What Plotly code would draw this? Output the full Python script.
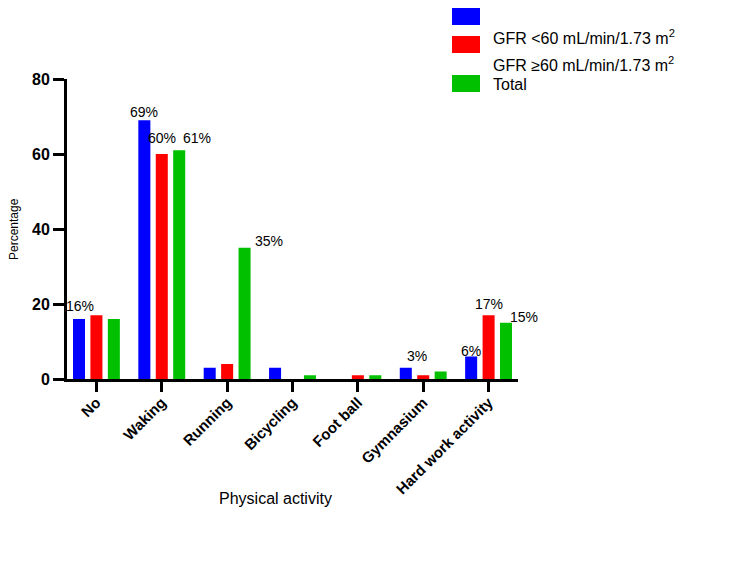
import plotly.graph_objects as go

categories = ["No", "Waking", "Running", "Bicycling", "Foot ball", "Gymnasium", "Hard work activity"]
series_names = ["", "GFR <60 mL/min/1.73 m<sup>2</sup>", "GFR \u226560 mL/min/1.73 m<sup>2</sup>", "Total"]
blue_vals = [16, 69, 3, 3, 0, 3, 6]
red_vals = [17, 60, 4, 0, 1, 1, 17]
green_vals = [16, 61, 35, 1, 1, 2, 15]
y_ticks = [0, 20, 40, 60, 80]
colors = ["#0000FF", "#FF0000", "#00C000"]

# labelled bars: (series index, category index, xshift px, yshift px)
labelled = [(0, 0, 1, 13), (0, 1, 0, 8), (1, 1, 0, 16), (2, 1, 18, 12),
            (2, 2, 24, 7), (0, 5, 11, 12), (0, 6, 0, 6), (1, 6, 0, 11), (2, 6, 18, 6)]

FONT = "Liberation Sans, Arial, sans-serif"
series_vals = [blue_vals, red_vals, green_vals]

fig = go.Figure()
for vals, col in zip(series_vals, colors):
    fig.add_trace(go.Bar(x=categories, y=vals, marker=dict(color=col, line=dict(width=0)),
                         showlegend=False))

L, R, T, B = 67, 232, 79, 183
W, H = 750, 562
pw, ph = W - L - R, H - T - B
bar_step = 17.5

for si, ci, dx, dy in labelled:
    v = series_vals[si][ci]
    fig.add_annotation(x=categories[ci], y=v, xref="x", yref="y", text=f"{v}%",
                       showarrow=False, xanchor="center", yanchor="middle",
                       xshift=(si - 1) * bar_step + dx, yshift=dy,
                       font=dict(family=FONT, size=14, color="#000"))

# custom legend (swatches misaligned with texts as in reference)
def px2paper(x, y):
    return (x - L) / pw, (H - B - y) / ph

sw = [(8, 25), (36, 53), (75, 92)]
for (y0, y1), col in zip(sw, colors):
    xa, ya = px2paper(452, y1)
    xb, yb = px2paper(480, y0)
    fig.add_shape(type="rect", xref="paper", yref="paper", x0=xa, x1=xb, y0=ya, y1=yb,
                  fillcolor=col, line=dict(width=0))
txt_y = [37, 64, 84]
for name, ty in zip(series_names[1:], txt_y):
    xa, ya = px2paper(491, ty)
    fig.add_annotation(x=xa, y=ya, xref="paper", yref="paper", text=name, showarrow=False,
                       xanchor="left", yanchor="middle",
                       font=dict(family=FONT, size=16, color="#000"))

# axis titles
xa, ya = px2paper(14, 229)
fig.add_annotation(x=xa, y=ya, xref="paper", yref="paper", text="Percentage", textangle=-90,
                   showarrow=False, xanchor="center", yanchor="middle",
                   font=dict(family=FONT, size=12, color="#000"))
xa, ya = px2paper(275, 498)
fig.add_annotation(x=xa, y=ya, xref="paper", yref="paper", text="Physical activity",
                   showarrow=False, xanchor="center", yanchor="middle",
                   font=dict(family=FONT, size=16, color="#000"))

fig.update_layout(
    width=W, height=H,
    margin=dict(l=L, r=R, t=T, b=B),
    paper_bgcolor="white", plot_bgcolor="white",
    barmode="group", bargap=0.2, bargroupgap=0.31,
    font=dict(family=FONT, color="#000"),
)
fig.update_xaxes(range=[-0.45, 6.45], showline=True, linecolor="#000", linewidth=3,
                 ticks="outside", ticklen=10, tickwidth=3, tickcolor="#000",
                 tickangle=-45, showgrid=False, zeroline=False, ticklabelstandoff=-4,
                 tickfont=dict(family=FONT, size=15, color="#000", weight="bold"))
fig.update_yaxes(range=[0, 80], tickvals=y_ticks, showline=True, linecolor="#000", linewidth=3,
                 ticks="outside", ticklen=11, tickwidth=3, tickcolor="#000",
                 showgrid=False, zeroline=False,
                 tickfont=dict(family=FONT, size=16, color="#000", weight="bold"))

fig.write_html("out.html")
